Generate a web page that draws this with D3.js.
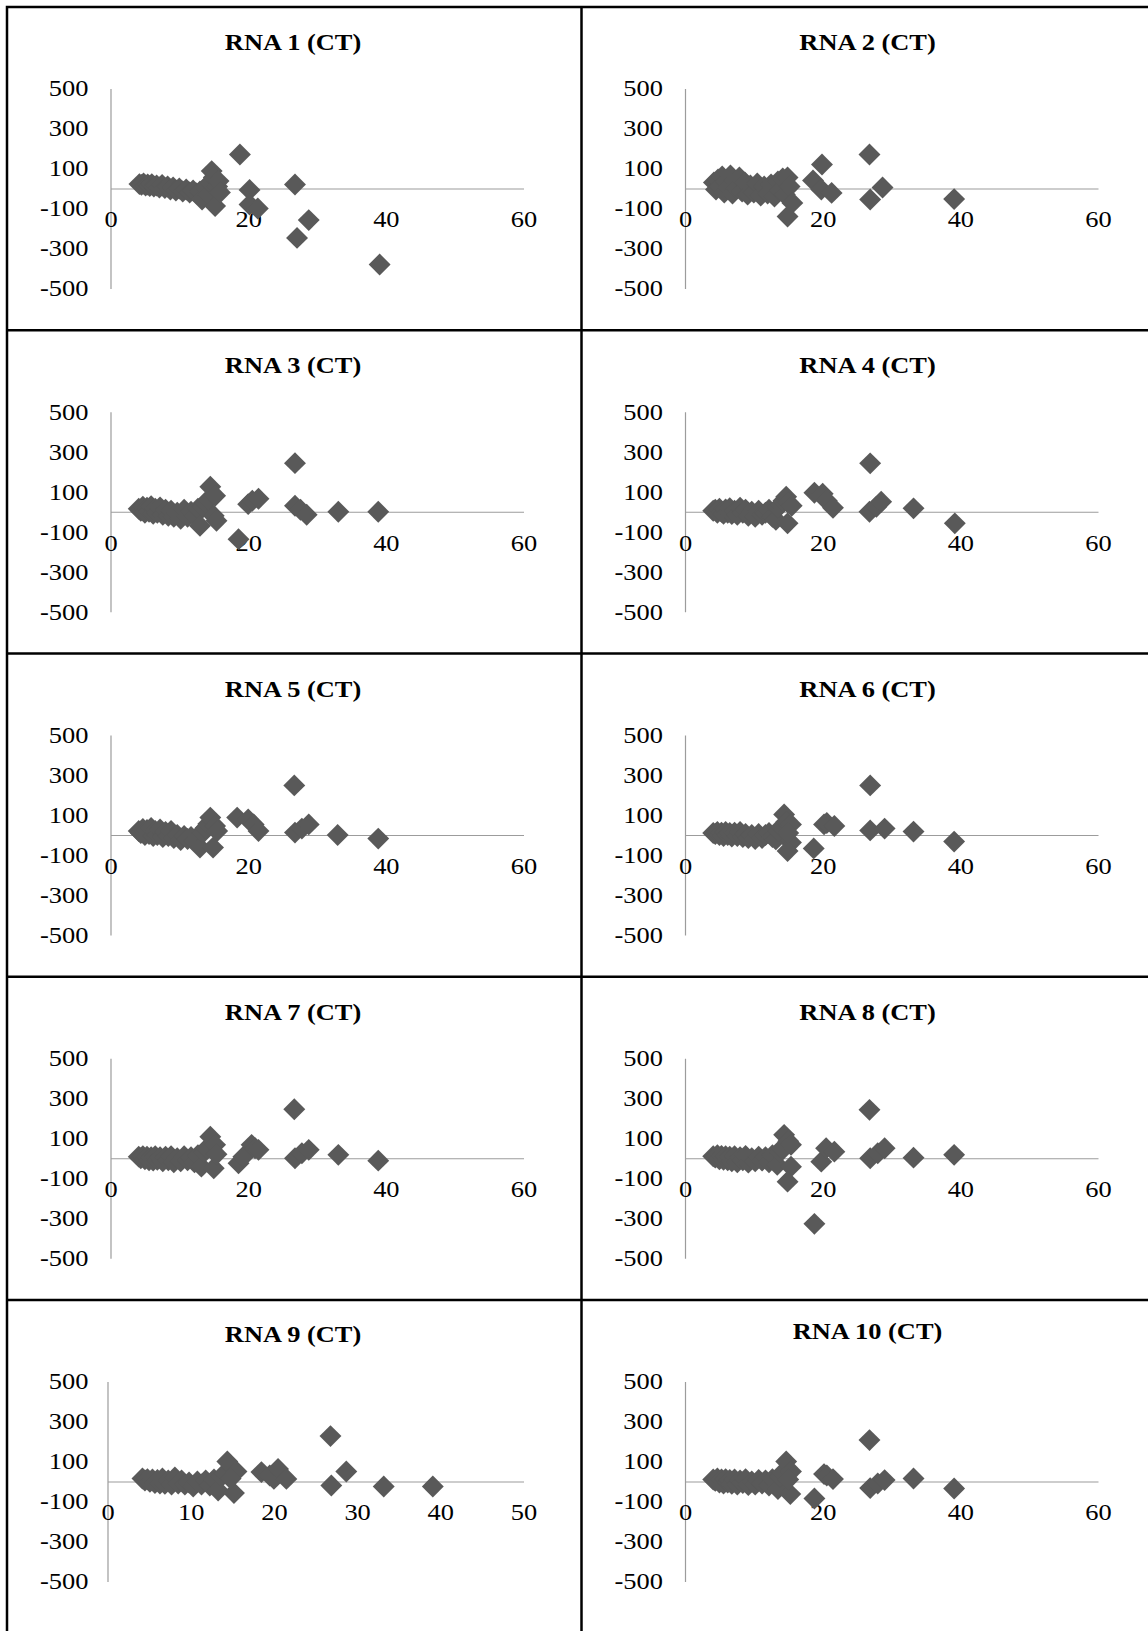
<!DOCTYPE html>
<html>
<head>
<meta charset="utf-8">
<script src="https://cdn.jsdelivr.net/npm/d3@7"></script>
<style>
  body { margin: 0; background: #fff; }
</style>
</head>
<body>
<div id="chart-area"></div>
<script>
// values: [mean CT, difference]
const titles = ["RNA 1 (CT)", "RNA 2 (CT)", "RNA 3 (CT)", "RNA 4 (CT)", "RNA 5 (CT)",
                "RNA 6 (CT)", "RNA 7 (CT)", "RNA 8 (CT)", "RNA 9 (CT)", "RNA 10 (CT)"];
const yTicks = [500, 300, 100, -100, -300, -500];
const xTicks60 = [0, 20, 40, 60];
const xTicks50 = [0, 10, 20, 30, 40, 50];

const rna1 = [[4.2,22],[4.5,18],[4.8,25],[5.1,15],[5.4,20],[5.7,12],[6.0,22],[6.3,10],[6.7,15],[7.1,5],
  [7.5,18],[7.9,2],[8.3,10],[8.7,-5],[9.1,5],[9.5,-10],[10.0,0],[10.5,-15],[11.0,-5],[11.5,-20],[12.0,-10],
  [12.5,-25],[13.0,-15],[13.3,-55],[13.8,5],[14.2,-30],[14.5,30],[14.7,87],[15.0,55],[15.2,-88],[15.5,10],
  [15.7,37],[15.9,-20],[18.8,170],[20.2,-7],[20.2,-80],[21.4,-100],[26.8,20],[27.1,-247],[28.8,-158],[39.1,-380]];
const rna2 = [[4.2,30],[4.5,-5],[4.8,45],[5.1,10],[5.4,60],[5.7,-20],[6.0,35],[6.3,5],[6.6,65],[6.9,-25],
  [7.2,40],[7.5,0],[7.9,55],[8.3,-15],[8.7,30],[9.1,-30],[9.5,15],[10.0,-20],[10.5,25],[11.0,-35],[11.5,10],
  [12.0,-25],[12.5,20],[13.0,-40],[13.5,35],[13.8,-10],[14.2,50],[14.5,-30],[14.9,55],[15.2,10],[15.6,-72],
  [14.9,-140],[18.6,40],[19.9,120],[19.8,-5],[21.3,-22],[26.8,170],[26.9,-55],[28.7,5],[39.1,-53]];
const rna3 = [[4.1,15],[4.4,5],[4.7,25],[5.0,-5],[5.3,20],[5.6,0],[5.9,28],[6.2,-10],[6.5,15],[6.8,-5],
  [7.2,22],[7.6,-15],[8.0,10],[8.4,-20],[8.8,5],[9.2,-25],[9.7,-5],[10.2,-35],[10.7,10],[11.2,-25],[11.7,0],
  [12.2,-20],[12.7,15],[13.0,-70],[13.4,25],[13.8,45],[14.2,60],[14.5,125],[15.0,-20],[15.2,80],[15.4,-45],
  [18.6,-137],[20.0,38],[20.6,55],[21.5,65],[26.8,243],[26.8,30],[27.6,10],[28.5,-15],[33.1,0],[38.9,0]];
const rna4 = [[4.1,5],[4.4,10],[4.7,-5],[5.0,15],[5.3,0],[5.6,-10],[5.9,12],[6.2,-5],[6.5,18],[6.8,-12],
  [7.2,5],[7.6,-15],[8.0,20],[8.4,-5],[8.8,10],[9.2,-20],[9.7,0],[10.2,-25],[10.7,5],[11.2,-15],[11.7,-5],
  [12.2,10],[12.7,-25],[13.2,-40],[13.5,20],[13.9,35],[14.3,55],[14.7,75],[15.0,45],[14.9,-58],[15.5,30],
  [18.8,95],[20.0,90],[20.6,55],[21.5,20],[26.9,242],[26.8,0],[27.8,25],[28.5,50],[33.2,17],[39.2,-58]];
const rna5 = [[4.1,20],[4.4,10],[4.7,30],[5.0,0],[5.3,25],[5.6,5],[5.9,35],[6.2,-5],[6.5,20],[6.8,0],
  [7.2,28],[7.6,-10],[8.0,15],[8.4,-5],[8.8,20],[9.2,-15],[9.7,0],[10.2,-25],[10.7,-5],[11.2,-20],[11.7,-10],
  [12.2,-30],[12.7,-5],[13.0,-63],[13.4,10],[13.8,35],[14.2,55],[14.5,87],[15.2,45],[14.9,-63],[15.5,20],
  [18.4,87],[20.0,78],[20.8,53],[21.5,20],[26.7,248],[26.8,12],[27.8,32],[28.8,53],[33.0,0],[38.9,-18]];
const rna6 = [[4.1,10],[4.4,5],[4.7,15],[5.0,0],[5.3,12],[5.6,-5],[5.9,15],[6.2,0],[6.5,10],[6.8,-8],
  [7.2,12],[7.6,-5],[8.0,15],[8.4,-10],[8.8,5],[9.2,-15],[9.7,0],[10.2,-20],[10.7,5],[11.2,-15],[11.7,0],
  [12.2,10],[12.7,-10],[13.2,-22],[13.6,20],[14.0,40],[14.4,103],[14.7,65],[15.4,53],[15.4,-38],[14.9,-80],
  [15.0,10],[18.7,-67],[20.2,53],[20.6,60],[21.7,45],[26.9,248],[26.9,23],[29.0,32],[33.2,17],[39.1,-33]];
const rna7 = [[4.1,8],[4.4,0],[4.7,10],[5.0,-5],[5.3,8],[5.6,-10],[5.9,5],[6.2,-12],[6.5,10],[6.8,-8],
  [7.2,5],[7.6,-15],[8.0,8],[8.4,-10],[8.8,10],[9.2,-20],[9.7,0],[10.2,-15],[10.7,10],[11.2,-10],[11.7,5],
  [12.2,-20],[12.7,15],[13.2,-42],[13.6,30],[14.0,50],[14.5,108],[15.2,67],[15.0,-50],[15.4,20],
  [18.6,-25],[19.3,8],[20.5,67],[21.0,50],[21.5,42],[26.7,245],[26.8,0],[27.8,25],[28.8,42],[33.1,17],[38.9,-12]];
const rna8 = [[4.1,10],[4.4,3],[4.7,15],[5.0,-5],[5.3,12],[5.6,-8],[5.9,10],[6.2,-10],[6.5,8],[6.8,-15],
  [7.2,10],[7.6,-20],[8.0,5],[8.4,-10],[8.8,12],[9.2,-22],[9.7,0],[10.2,-15],[10.7,8],[11.2,-12],[11.7,5],
  [12.2,-20],[12.7,15],[13.4,-33],[13.8,30],[14.1,50],[14.4,117],[15.0,85],[15.4,67],[15.4,-42],[14.9,-117],
  [18.8,-328],[19.8,-17],[20.5,50],[21.7,33],[26.8,242],[26.9,0],[28.0,25],[29.0,50],[33.2,3],[39.1,17]];
const rna9 = [[4.2,15],[4.5,5],[4.8,12],[5.1,-2],[5.4,10],[5.7,-8],[6.0,8],[6.3,-10],[6.6,15],[6.9,-12],
  [7.3,5],[7.7,-15],[8.1,20],[8.5,-10],[8.9,5],[9.3,-15],[9.8,-5],[10.3,-25],[10.8,0],[11.3,-15],[11.8,5],
  [12.3,-20],[12.8,10],[13.3,-45],[13.7,25],[14.1,40],[14.4,100],[15.5,50],[15.2,-58],[14.8,15],
  [18.5,47],[19.5,30],[20.0,13],[20.5,63],[21.5,13],[26.8,227],[26.9,-20],[28.7,50],[33.2,-25],[39.1,-25]];
const rna10 = [[4.1,10],[4.4,3],[4.7,15],[5.0,-5],[5.3,10],[5.6,-10],[5.9,12],[6.2,-5],[6.5,8],[6.8,-12],
  [7.2,10],[7.6,-15],[8.0,5],[8.4,-8],[8.8,12],[9.2,-18],[9.7,0],[10.2,-15],[10.7,8],[11.2,-10],[11.7,5],
  [12.2,-20],[12.7,12],[13.5,-38],[13.8,25],[14.2,45],[14.7,100],[15.4,50],[15.3,-63],[15.0,10],
  [18.8,-85],[20.2,37],[20.6,30],[21.5,12],[26.8,207],[26.9,-33],[28.0,-10],[29.0,7],[33.2,15],[39.1,-35]];

const series = [rna1, rna2, rna3, rna4, rna5, rna6, rna7, rna8, rna9, rna10];

const WIDTH = 1148, HEIGHT = 1631;
const GRID = { LEFT: 7, TOP: 7, COL: 574.5, ROW: 323.25 };
const FONT = '"Liberation Serif", "Times New Roman", serif';
const STRETCH = 1.15;   // the source text is a little wide
const DOT = "#595959";
const AXIS = "#9c9c9c";

const svg = d3.select("#chart-area").append("svg")
    .attr("width", WIDTH)
    .attr("height", HEIGHT);

series.forEach((data, i) => {
    const col = i % 2, row = Math.floor(i / 2);
    const left = GRID.LEFT + col * GRID.COL;
    const top = GRID.TOP + row * GRID.ROW;
    const isFifty = i === 8;
    const x0 = left + (isFifty ? 100.5 : 103.5);

    const x = d3.scaleLinear()
        .domain([0, isFifty ? 50 : 60])
        .range([x0, left + 516.5]);
    const y = d3.scaleLinear()
        .domain([-500, 500])
        .range([top + 281.5, top + 81.5]);

    const g = svg.append("g").attr("class", "panel");

    // title
    const titleY = row === 4 ? (col === 0 ? 42 : 39) : 43;
    g.append("text")
        .attr("transform", `translate(${left + 286}, ${top + titleY}) scale(1.1, 1)`)
        .attr("text-anchor", "middle")
        .attr("font-family", FONT)
        .attr("font-size", "24px")
        .attr("font-weight", "bold")
        .text(titles[i]);

    // y axis
    const yAxisCall = d3.axisLeft(y)
        .tickValues(yTicks)
        .tickFormat(d => String(d))
        .tickSize(0)
        .tickPadding((x0 - (left + 81.5)) / STRETCH);
    const ya = g.append("g")
        .attr("transform", `translate(${x0}, 0)`)
        .call(yAxisCall);

    // x axis on the zero line
    const xAxisCall = d3.axisBottom(x)
        .tickValues(isFifty ? xTicks50 : xTicks60)
        .tickFormat(d => String(d))
        .tickSize(0)
        .tickPadding(22.5);
    const xa = g.append("g")
        .attr("transform", `translate(0, ${y(0)})`)
        .call(xAxisCall);

    [ya, xa].forEach(a => {
        a.select(".domain").attr("stroke", AXIS).attr("stroke-width", 1.2);
        a.selectAll("text")
            .attr("font-family", FONT)
            .attr("font-size", "23px")
            .attr("fill", "#000")
            .attr("transform", `scale(${STRETCH}, 1)`);
    });

    // diamonds
    g.selectAll("path.pt").data(data).enter().append("path")
        .attr("class", "pt")
        .attr("d", d3.symbol().type(d3.symbolSquare).size(240))
        .attr("transform", d => `translate(${x(d[0])}, ${y(d[1])}) rotate(45)`)
        .attr("fill", DOT);
});

// cell borders
const borders = svg.append("g")
    .attr("stroke", "#000")
    .attr("stroke-width", 2.5);
borders.append("rect")
    .attr("x", GRID.LEFT)
    .attr("y", GRID.TOP)
    .attr("width", GRID.COL * 2)
    .attr("height", GRID.ROW * 5 + 20)
    .attr("fill", "none");
borders.append("line")
    .attr("x1", GRID.LEFT + GRID.COL).attr("x2", GRID.LEFT + GRID.COL)
    .attr("y1", GRID.TOP).attr("y2", HEIGHT + 10);
d3.range(1, 5).forEach(r => {
    borders.append("line")
        .attr("x1", GRID.LEFT).attr("x2", WIDTH + 10)
        .attr("y1", GRID.TOP + r * GRID.ROW).attr("y2", GRID.TOP + r * GRID.ROW);
});
</script>
</body>
</html>
